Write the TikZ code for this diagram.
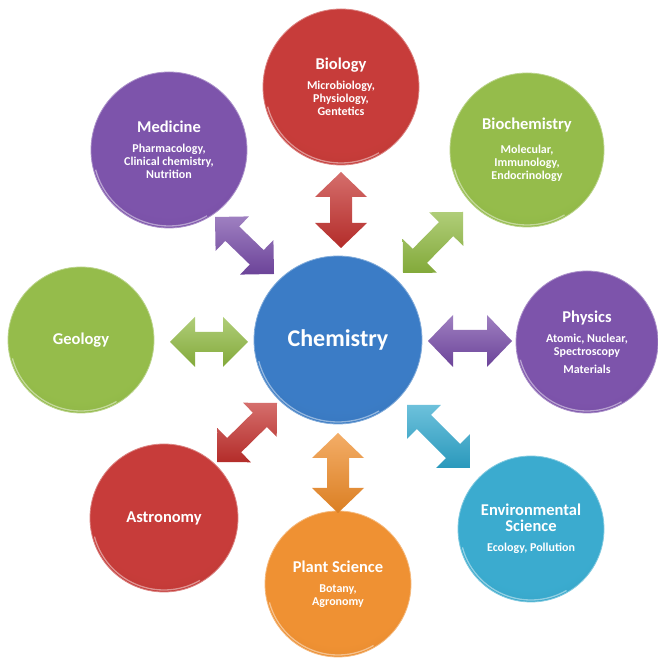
\documentclass[tikz,border=0pt]{standalone}
\usepackage{fontspec}
\setmainfont{Carlito}
\usetikzlibrary{calc}
\definecolor{cRed}{HTML}{C3302D}
\definecolor{cPur}{HTML}{7549A6}
\definecolor{cGrn}{HTML}{8EB83F}
\definecolor{cBlu}{HTML}{2F74C2}
\definecolor{cOrg}{HTML}{EE8A26}
\definecolor{cCya}{HTML}{2EA6CC}
\colorlet{discin}{red}\colorlet{discout}{blue}
\pgfdeclareradialshading[discin,discout]{discshade}{\pgfpoint{0bp}{8bp}}{color(0bp)=(discin); color(26bp)=(discin); color(58bp)=(discout); color(70bp)=(discout)}
\newcommand\titlefont{\fontsize{16.5}{18}\selectfont\bfseries}
\newcommand\subfont{\fontsize{12}{13}\selectfont\bfseries}
\newcommand\dblarr[6]{%
 \coordinate (tmpm) at ($(#1)!#3!(#2)$);
 \coordinate (tmpn) at ($(#2)!#3!(#1)$);
 \shade[#6] (#1) -- ($(tmpm)!#4!90:(#2)$) -- ($(tmpm)!#5!90:(#2)$) -- ($(tmpn)!#5!-90:(#1)$) -- ($(tmpn)!#4!-90:(#1)$) -- (#2) -- ($(tmpn)!#4!90:(#1)$) -- ($(tmpn)!#5!90:(#1)$) -- ($(tmpm)!#5!-90:(#2)$) -- ($(tmpm)!#4!-90:(#2)$) -- cycle;}
\newcommand\rim[2]{\draw[white, opacity=0.45, line width=1.3pt] ($(#1.center)+(195:#2)$) arc[start angle=195, end angle=300, radius=#2];}
\tikzset{
  disc/.style={circle, inner sep=0pt, minimum size=#1, text=white, align=center, font=\subfont},
  dcol/.style={shade, shading=discshade, /utils/exec={\colorlet{discin}{#1!94!white}\colorlet{discout}{#1!82!black}}, draw=#1!60!white, line width=0.8pt},
  arr/.style={top color=#1!70!white, bottom color=#1!92!black, draw=none}
}
\begin{document}
\begin{tikzpicture}[x=1pt,y=1pt]
\useasboundingbox (0,0) rectangle (657,663);
\fill[white] (0,0) rectangle (657,663);

% discs
\node[disc=168pt, dcol=cBlu] (chem) at (338,323) {\fontsize{24}{26}\selectfont\bfseries Chemistry};
\node[disc=156pt, dcol=cRed] (bio) at (341,576) {{\titlefont Biology}\\[7pt]Microbiology,\\Physiology,\\Gentetics};
\node[disc=156pt, dcol=cPur] (med) at (169,513) {{\titlefont Medicine}\\[7pt]Pharmacology,\\Clinical chemistry,\\Nutrition};
\node[disc=154pt, dcol=cGrn] (biochem) at (527,513) {{\titlefont Biochemistry}\\[11pt]Molecular,\\Immunology,\\Endocrinology};
\node[disc=146pt, dcol=cGrn] (geo) at (81,323) {\titlefont Geology};
\node[disc=142pt, dcol=cPur] (phys) at (587,321) {{\titlefont Physics}\\[7pt]Atomic, Nuclear,\\Spectroscopy\\[5pt]Materials};
\node[disc=148pt, dcol=cRed] (astro) at (164,145) {\titlefont Astronomy};
\node[disc=146pt, dcol=cOrg] (plant) at (338,79) {{\titlefont Plant Science}\\[7pt]Botany,\\Agronomy};
\node[disc=146pt, dcol=cCya] (env) at (531,134) {{\titlefont Environmental}\\[3pt]{\titlefont Science}\\[7pt]Ecology, Pollution};

\rim{chem}{82pt}\rim{bio}{76pt}\rim{med}{76pt}\rim{biochem}{75pt}\rim{geo}{71pt}
\rim{phys}{69pt}\rim{astro}{72pt}\rim{plant}{71pt}\rim{env}{71pt}

% arrow end points
\coordinate (bioA) at (341,491); \coordinate (bioB) at (341,415);
\coordinate (medA) at (215,446); \coordinate (medB) at (274,389);
\coordinate (bchA) at (463,451); \coordinate (bchB) at (403,390);
\coordinate (geoA) at (170,321); \coordinate (geoB) at (248,321);
\coordinate (phyA) at (512,322); \coordinate (phyB) at (428,322);
\coordinate (astA) at (217,201); \coordinate (astB) at (277,260);
\coordinate (plaA) at (338,150); \coordinate (plaB) at (338,230);
\coordinate (envA) at (470,195); \coordinate (envB) at (407,258);

\dblarr{bioA}{bioB}{25pt}{26pt}{11pt}{arr=cRed}
\dblarr{medA}{medB}{24pt}{24pt}{10pt}{arr=cPur}
\dblarr{bchA}{bchB}{24pt}{24pt}{10pt}{arr=cGrn}
\dblarr{geoA}{geoB}{25pt}{25pt}{10pt}{arr=cGrn}
\dblarr{phyA}{phyB}{25pt}{26pt}{11pt}{arr=cPur}
\dblarr{astA}{astB}{24pt}{24pt}{10pt}{arr=cRed}
\dblarr{plaA}{plaB}{25pt}{26pt}{11pt}{arr=cOrg}
\dblarr{envA}{envB}{24pt}{24pt}{10pt}{arr=cCya}
\end{tikzpicture}
\end{document}
